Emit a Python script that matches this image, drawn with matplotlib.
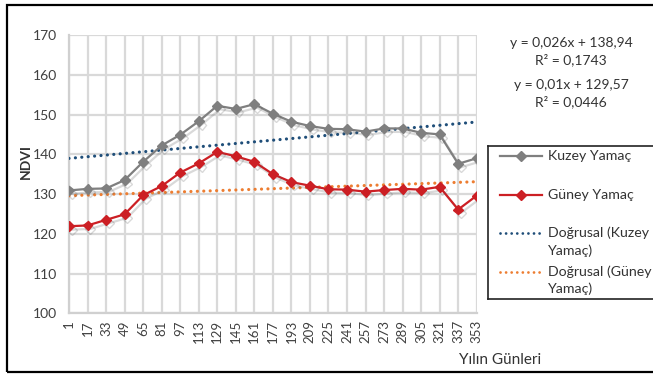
import matplotlib.pyplot as plt
import matplotlib.patheffects as pe
from matplotlib.patches import Rectangle
import numpy as np

plt.rcParams['font.family'] = ['Lato', 'DejaVu Sans']

# günler ve NDVI değerleri
gunler = [1, 17, 33, 49, 65, 81, 97, 113, 129, 145, 161, 177, 193, 209,
          225, 241, 257, 273, 289, 305, 321, 337, 353]
kuzey = [130.9, 131.3, 131.4, 133.5, 138.1, 142.2, 144.9, 148.3, 152.2, 151.4,
         152.6, 150.2, 148.2, 147.1, 146.4, 146.3, 145.7, 146.5, 146.5, 145.4,
         145.0, 137.6, 139.0]
guney = [121.9, 122.1, 123.5, 124.9, 129.7, 132.0, 135.4, 137.7, 140.6, 139.5,
         138.1, 135.0, 133.0, 132.1, 131.2, 131.1, 130.6, 131.0, 131.3, 131.1,
         131.8, 126.1, 129.6]

# doğrusal eğilim katsayıları (eğim, kesişim, R²)
kuzey_egilim = (0.026, 138.94, 0.1743)
guney_egilim = (0.01, 129.57, 0.0446)

W, H = 653, 374
fig = plt.figure(figsize=(W / 100, H / 100), dpi=100)
fig.patch.set_facecolor('white')

def fx(px):
    return px / W

def fy(py):
    return 1 - py / H

ax = fig.add_axes([fx(69), fy(313.3), fx(476.7 - 69), (313.3 - 35) / H])

golge = [pe.SimpleLineShadow(offset=(2, -2.5), shadow_color='#555555', alpha=0.22),
         pe.Normal()]

x = np.arange(len(gunler))
gri = '#7f7f7f'
kirmizi = '#cc1f24'
mavi = '#1f4e79'
turuncu = '#ed7d31'
noktali = (0, (0.01, 2.0))

g = np.array(gunler)
ax.plot(x, kuzey_egilim[0] * g + kuzey_egilim[1], color=mavi, lw=2.3,
        linestyle=noktali, dash_capstyle='round', zorder=3)
ax.plot(x, guney_egilim[0] * g + guney_egilim[1], color=turuncu, lw=2.3,
        linestyle=noktali, dash_capstyle='round', zorder=3)

ax.plot(x, kuzey, color=gri, lw=1.6, marker='D', ms=5, mfc=gri, mec=gri,
        path_effects=golge, zorder=4)
ax.plot(x, guney, color=kirmizi, lw=1.6, marker='D', ms=5, mfc=kirmizi, mec=kirmizi,
        path_effects=golge, zorder=4)

ax.set_xlim(0, len(gunler) - 1)
ax.set_ylim(100, 170)
ax.set_yticks(range(100, 171, 10))
ax.set_xticks(x)
ax.set_xticklabels([str(d) for d in gunler], rotation=90, fontsize=9.5, color='#404040')
ax.tick_params(axis='y', labelsize=10, labelcolor='#404040', length=0, pad=8.6)
ax.tick_params(axis='x', length=0, pad=5)
ax.grid(True, color='#d9d9d9', lw=1.6)
ax.set_axisbelow(True)
for s in ax.spines.values():
    s.set_visible(False)
for k in ('left', 'bottom'):
    ax.spines[k].set_visible(True)
    ax.spines[k].set_color('#d0d0d0')
    ax.spines[k].set_linewidth(1.6)

fig.text(fx(26), fy(162), 'NDVI', rotation=90, ha='center', va='center',
         fontsize=10, fontweight='bold', color='#333333')
fig.text(fx(500), fy(360), 'Yılın Günleri', ha='center', va='center',
         fontsize=11, color='#333333')

# eğilim denklemleri
def sayi(v):
    return ('%g' % v).replace('.', ',')

esitlikler = [('y = %sx + %s' % (sayi(kuzey_egilim[0]), sayi(kuzey_egilim[1])), 43),
              ('R² = %s' % sayi(kuzey_egilim[2]), 60),
              ('y = %sx + %s' % (sayi(guney_egilim[0]), sayi(guney_egilim[1])), 85),
              ('R² = %s' % sayi(guney_egilim[2]), 102)]
for t, yy in esitlikler:
    fig.text(fx(571), fy(yy), t, ha='center', va='center', fontsize=10, color='#333333')

# lejant kutusu
lax = fig.add_axes([fx(487.7), fy(299), fx(700 - 487.7), (299 - 145.7) / H])
lax.set_xlim(487.7, 700)
lax.set_ylim(299, 145.7)
lax.set_xticks([])
lax.set_yticks([])
for s in lax.spines.values():
    s.set_color('#222222')
    s.set_linewidth(1.2)

lx = np.array([500, 541.7])
lax.plot(lx, [155.7, 155.7], color=gri, lw=1.6)
lax.plot([520.8], [155.7], color=gri, marker='D', ms=5)
lax.plot(lx, [195, 195], color=kirmizi, lw=1.6)
lax.plot([520.8], [195], color=kirmizi, marker='D', ms=5)
lax.plot(lx, [233, 233], color=mavi, lw=2, linestyle=noktali, dash_capstyle='round')
lax.plot(lx, [271.7, 271.7], color=turuncu, lw=2, linestyle=noktali, dash_capstyle='round')

etiketler = [('Kuzey Yamaç', 155.7), ('Güney Yamaç', 195),
             ('Doğrusal (Kuzey', 233), ('Yamaç)', 251),
             ('Doğrusal (Güney', 271.7), ('Yamaç)', 289)]
for t, yy in etiketler:
    lax.text(547.7, yy, t, ha='left', va='center', fontsize=10.2, color='#333333')

# dış çerçeve
fig.patches.append(Rectangle((fx(6.5), fy(371.5)), 1.2, (371.5 - 4.5) / H,
                             transform=fig.transFigure, fill=False,
                             edgecolor='black', lw=1.6))

fig.savefig('out.png', dpi=100, facecolor='white')
